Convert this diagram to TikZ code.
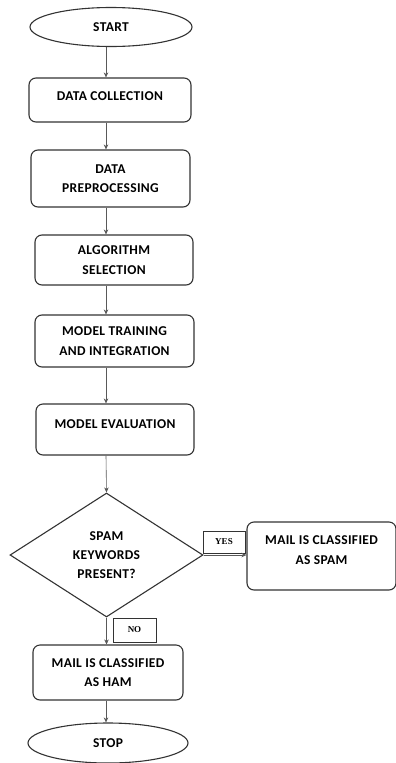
\documentclass[tikz,border=0pt]{standalone}
\usepackage{fontspec}
\setmainfont{Carlito}[LetterSpace=2.5]
\newfontfamily\labfont{Liberation Serif}
\usetikzlibrary{shapes.geometric,arrows.meta}
\begin{document}
\begin{tikzpicture}[x=1pt,y=-1pt,
  box/.style={draw=black!80, line width=1.1pt, rounded corners=7pt, align=center,
    font=\fontsize{13.5}{19.5}\selectfont\bfseries, inner sep=0pt},
  term/.style={ellipse, draw=black!80, line width=1.1pt, inner sep=0pt,
    font=\fontsize{13.5}{19.5}\selectfont\bfseries},
  dec/.style={diamond, draw=black!80, line width=1.1pt, inner sep=0pt, align=center,
    font=\fontsize{13.5}{19}\selectfont\bfseries},
  lab/.style={draw=black!80, line width=1pt, inner sep=0pt,
    font=\labfont\bfseries\fontsize{9}{10}\selectfont},
  arr/.style={draw=black!65, line width=0.6pt, -{Stealth[length=5pt,width=4.5pt]}}]
\useasboundingbox (0,0) rectangle (396,763);
\coordinate (ax) at (106,0);
\node[term, minimum width=162pt, minimum height=39pt] (start) at (111,27) {START};
\node[box, minimum width=162pt, minimum height=44pt, text height=9pt, text depth=8.6pt] (dc) at (110,100) {DATA COLLECTION};
\node[box, minimum width=159pt, minimum height=57pt] (dp) at (110.5,178.5) {DATA\\PREPROCESSING};
\node[box, minimum width=158pt, minimum height=50pt] (as) at (114,260) {ALGORITHM\\SELECTION};
\node[box, minimum width=159pt, minimum height=52pt] (mt) at (114.5,341) {MODEL TRAINING\\AND INTEGRATION};
\node[box, minimum width=158pt, minimum height=51pt, text height=9pt, text depth=11.6pt] (me) at (115,429.5) {MODEL EVALUATION};
\node[dec, minimum width=193pt, minimum height=124pt] (kw) at (106.5,555) {SPAM\\KEYWORDS\\PRESENT?};
\node[box, minimum width=149pt, minimum height=68pt, text depth=11.6pt] (spam) at (321.5,556) {MAIL IS CLASSIFIED\\AS SPAM};
\node[lab, minimum width=42pt, minimum height=22pt] (yes) at (224,542) {YES};
\node[lab, minimum width=43pt, minimum height=24pt] (no) at (134.5,630) {NO};
\node[box, minimum width=150pt, minimum height=55pt] (ham) at (108,672.5) {MAIL IS CLASSIFIED\\AS HAM};
\node[term, minimum width=160pt, minimum height=40pt] (stop) at (108,743) {STOP};
\draw[arr] (start.south -| ax) -- (dc.north -| ax);
\draw[arr] (dc.south -| ax) -- (dp.north -| ax);
\draw[arr] (dp.south -| ax) -- (as.north -| ax);
\draw[arr] (as.south -| ax) -- (mt.north -| ax);
\draw[arr] (mt.south -| ax) -- (me.north -| ax);
\draw[arr] (me.south -| ax) -- (kw.north);
\draw[arr] (kw.east) -- (kw.east -| spam.west);
\draw[arr] (kw.south) -- (kw.south |- ham.north);
\draw[arr] (ham.south -| ax) -- (stop.north -| ax);
\end{tikzpicture}
\end{document}
